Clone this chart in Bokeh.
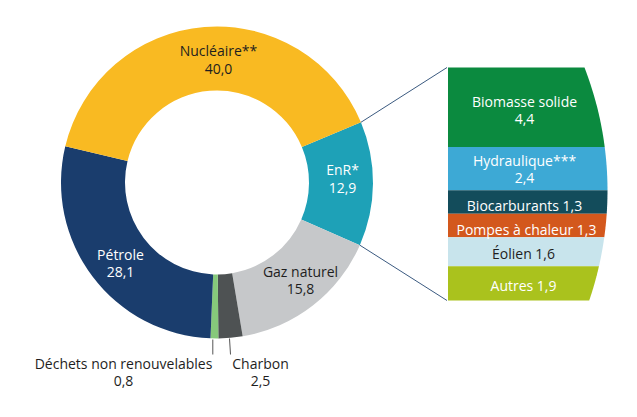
import numpy as np
from bokeh.plotting import figure
from bokeh.models import ColumnDataSource
from bokeh.core.properties import value
from bokeh.embed import file_html
from bokeh.resources import INLINE

# ---- data ----
mix_labels = ["EnR*", "Gaz naturel", "Charbon", "Déchets non renouvelables", "Pétrole", "Nucléaire**"]
mix_values = [12.9, 15.8, 2.5, 0.8, 28.1, 40.0]
mix_colors = ["#1EA1B7", "#C6C8CA", "#4E5253", "#86C97B", "#1A3D6D", "#F9BA22"]

enr_labels = ["Biomasse solide", "Hydraulique***", "Biocarburants", "Pompes à chaleur", "Éolien", "Autres"]
enr_values = [4.4, 2.4, 1.3, 1.3, 1.6, 1.9]
enr_colors = ["#0B8A3F", "#3DA9D5", "#134C5B", "#D3581D", "#C8E4EC", "#AAC21D"]

def fmt(v):
    return f"{v:.1f}".replace(".", ",")

W, H = 637, 417
def Y(y):
    return H - y

p = figure(width=W, height=H, x_range=(0, W), y_range=(0, H),
           output_backend="svg", toolbar_location=None, min_border=0)
p.axis.visible = False
p.grid.visible = False
p.outline_line_color = None
p.background_fill_color = "white"
p.border_fill_color = "white"

# ---- donut ----
cx, cy = 216.5, 182.0
r_in, r_out = 92.0, 156.0
a0 = np.deg2rad(22.7)
total = sum(mix_values)
cum = np.concatenate([[0], np.cumsum(mix_values)])
starts = a0 - 2 * np.pi * cum[1:] / total
ends = a0 - 2 * np.pi * cum[:-1] / total
src = ColumnDataSource(dict(x=[cx] * len(mix_values), y=[Y(cy)] * len(mix_values),
                            s=list(starts), e=list(ends), c=mix_colors))
p.annular_wedge(x="x", y="y", inner_radius=r_in, outer_radius=r_out,
                start_angle="s", end_angle="e", color="c", source=src, line_color=None)

# ---- connector lines ----
pt_top = (cx + r_out * np.cos(a0), cy - r_out * np.sin(a0))
a1 = a0 - 2 * np.pi * mix_values[0] / total
pt_bot = (cx + r_out * np.cos(a1), cy - r_out * np.sin(a1))

# ---- ENR breakdown panel ----
px0 = 447.5
py_top, py_bot = 67.0, 300.0
scale = (py_bot - py_top) / sum(enr_values)
ccx, ccy, R = 267.0, 190.0, 340.0

def right_x(y):
    return ccx + np.sqrt(R ** 2 - (y - ccy) ** 2)

xs, ys = [], []
ecum = np.concatenate([[0], np.cumsum(enr_values)])
for i in range(len(enr_values)):
    t = py_top + ecum[i] * scale
    b = py_top + ecum[i + 1] * scale
    yy = np.linspace(t, b, 30)
    xx = right_x(yy)
    poly_x = [px0] + list(xx) + [px0]
    poly_y = [Y(t)] + [Y(v) for v in yy] + [Y(b)]
    xs.append(poly_x)
    ys.append(poly_y)
p.patches(xs, ys, fill_color=enr_colors, line_color=None)

p.line([pt_top[0], px0 - 1], [Y(pt_top[1]), Y(py_top)], line_color="#3B5A80", line_width=1)
p.line([pt_bot[0], px0 - 1], [Y(pt_bot[1]), Y(py_bot)], line_color="#3B5A80", line_width=1)

# ---- labels ----
font = value("Open Sans")
dark = "#1E1E1E"

def label(x, y, txt, color):
    p.text(x=[x], y=[Y(y)], text=[txt], text_color=color, text_font=font,
           text_font_size="14px", text_align="center", text_baseline="middle")

# donut labels
label(218, 50, mix_labels[5], dark)
label(218, 68, fmt(mix_values[5]), dark)
label(342, 169, mix_labels[0], "white")
label(342, 187, fmt(mix_values[0]), "white")
label(300, 271, mix_labels[1], dark)
label(300, 288, fmt(mix_values[1]), dark)
label(120, 254, mix_labels[4], "white")
label(120, 271, fmt(mix_values[4]), "white")
label(123, 363, mix_labels[3], dark)
label(123, 380, fmt(mix_values[3]), dark)
label(260, 363, mix_labels[2], dark)
label(260, 380, fmt(mix_values[2]), dark)

# leader lines for small slices
p.line([212.3, 212.3], [Y(339), Y(354)], line_color="#555555", line_width=1)
p.line([229.0, 230.0], [Y(338), Y(354)], line_color="#555555", line_width=1)

# panel labels
label(524, 101, enr_labels[0], "white")
label(524, 118, fmt(enr_values[0]), "white")
label(524, 160, enr_labels[1], "white")
label(524, 177, fmt(enr_values[1]), "white")
label(524, 205, f"{enr_labels[2]} {fmt(enr_values[2])}", "white")
label(526, 229, f"{enr_labels[3]} {fmt(enr_values[3])}", "white")
label(523, 253, f"{enr_labels[4]} {fmt(enr_values[4])}", dark)
label(523, 285, f"{enr_labels[5]} {fmt(enr_values[5])}", "white")

open("out.html", "w").write(file_html(p, INLINE))
